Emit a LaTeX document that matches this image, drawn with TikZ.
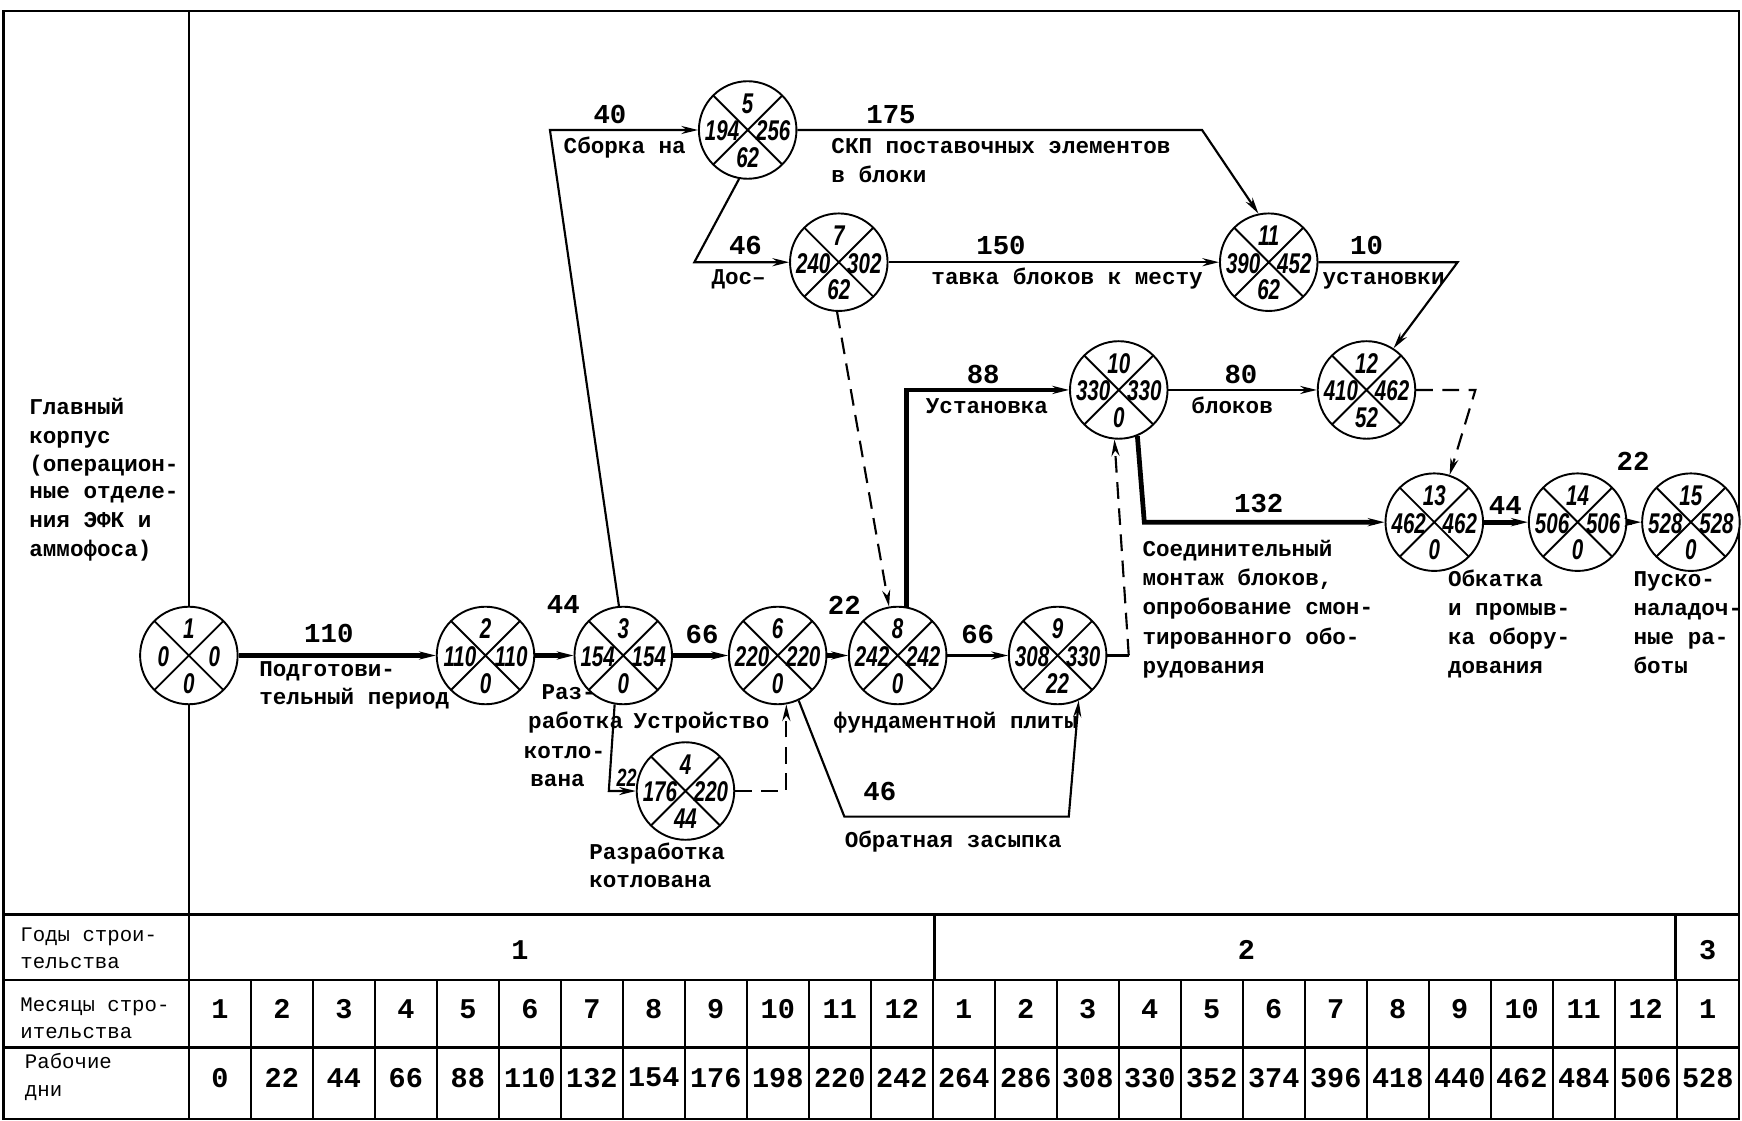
\documentclass[tikz,border=0pt]{standalone}
\usepackage{fontspec}
\setmainfont{Liberation Mono}
\newfontfamily\numfont[UprightFont={* Bold Italic},FakeStretch=0.72]{Liberation Sans}
\usetikzlibrary{arrows.meta}
\tikzset{
  ev/.style={circle, draw, line width=0.8pt, fill=white, minimum size=41pt, inner sep=0pt,
    path picture={\draw[line width=0.8pt]
      (path picture bounding box.north west) -- (path picture bounding box.south east)
      (path picture bounding box.north east) -- (path picture bounding box.south west);}},
  evnum/.style={font=\numfont\fontsize{12}{12}\selectfont, inner sep=0pt},
  frame/.style={line width=1pt},
  thn/.style={line width=0.9pt},
  thk/.style={line width=2pt},
  dsh/.style={line width=0.9pt, dash pattern=on 7pt off 4pt},
  arr/.style={-{Stealth[length=7pt,width=3.4pt]}},
  lbl/.style={font=\bfseries\fontsize{9.5}{12}\selectfont, inner sep=0pt, anchor=base west},
  tlbl/.style={font=\fontsize{8.7}{11}\selectfont, inner sep=0pt, anchor=base west},
  num/.style={font=\bfseries\fontsize{11.5}{12}\selectfont, inner sep=0pt},
  tnum/.style={font=\bfseries\fontsize{12}{12}\selectfont, inner sep=0pt}
}
\newcommand\evnode[7]{%
  \node[ev] (#1) at (#2,#3) {};
  \node[evnum] (#1t) at (#2,#3-24) {#4};
  \node[evnum] (#1l) at (#2-23,#3+1) {#5};
  \node[evnum] (#1r) at (#2+23,#3+1) {#6};
  \node[evnum] (#1b) at (#2,#3+25) {#7};
}
\begin{document}
\begin{tikzpicture}[x=0.467pt,y=-0.467pt]
\useasboundingbox (0,0) rectangle (1568,1009);
% frame and table
\draw[frame] (3,10) rectangle (1565,1007);
\draw[frame] (170,10) -- (170,1007);
\draw[frame] (3,823) -- (1565,823);
\draw[frame] (3,882) -- (1565,882);
\draw[frame] (3,943) -- (1565,943);
\draw[frame] (841,823) -- (841,882);
\draw[frame] (1508,823) -- (1508,882);
\foreach \i in {1,...,24} \draw[frame] (170+\i*55.8,882) -- (170+\i*55.8,1007);
\node[tnum] (y1) at (468,855) {1};
\node[tnum] (y2) at (1122,855) {2};
\node[tnum] (y3) at (1537,855) {3};
\foreach \m [count=\i from 0] in {1,2,3,4,5,6,7,8,9,10,11,12,1,2,3,4,5,6,7,8,9,10,11,12,1}
  \node[tnum] (m\i) at (197.9+\i*55.8,908) {\m};
\foreach \i in {0,...,24}{
  \pgfmathtruncatemacro\d{22*\i}
  \node[tnum] (d\i) at (197.9+\i*55.8,970) {\d};
}
\node[tlbl] (ty1) at (18,847) {Годы строи-};
\node[tlbl] (ty2) at (18,872) {тельства};
\node[tlbl] (tm1) at (18,910) {Месяцы стро-};
\node[tlbl] (tm2) at (18,935) {ительства};
\node[tlbl] (td1) at (22,962) {Рабочие};
\node[tlbl] (td2) at (22,987) {дни};
% left text
\node[lbl] (g1) at (26,373) {Главный};
\node[lbl] (g2) at (26,399) {корпус};
\node[lbl] (g3) at (26,424) {(операцион-};
\node[lbl] (g4) at (26,449) {ные отделе-};
\node[lbl] (g5) at (26,475) {ния ЭФК и};
\node[lbl] (g6) at (26,501) {аммофоса)};
% events
\evnode{n1}{170}{590}{1}{0}{0}{0}
\evnode{n2}{437}{590}{2}{110}{110}{0}
\evnode{n3}{561}{590}{3}{154}{154}{0}
\evnode{n4}{617}{712}{4}{176}{220}{44}
\evnode{n5}{673}{117}{5}{194}{256}{62}
\evnode{n6}{700}{590}{6}{220}{220}{0}
\evnode{n7}{755}{236}{7}{240}{302}{62}
\evnode{n8}{808}{590}{8}{242}{242}{0}
\evnode{n9}{952}{590}{9}{308}{330}{22}
\evnode{n10}{1007}{351}{10}{330}{330}{0}
\evnode{n11}{1142}{236}{11}{390}{452}{62}
\evnode{n12}{1230}{351}{12}{410}{462}{52}
\evnode{n13}{1291}{470}{13}{462}{462}{0}
\evnode{n14}{1420}{470}{14}{506}{506}{0}
\evnode{n15}{1522}{470}{15}{528}{528}{0}
% bend points
\coordinate (c3a) at (495,117);
\coordinate (c5a) at (1082,117);
\coordinate (c5b) at (625,236);
\coordinate (c11a) at (1312,236);
\coordinate (c12a) at (1328,351);
\coordinate (c10a) at (1030,470);
\coordinate (c9a) at (1016,590);
\coordinate (c3b) at (548,712);
\coordinate (c6a) at (760,735);
\coordinate (c6b) at (962,735);
% connectors
\draw[thk,arr] (n1) -- (n2);
\draw[thk,arr] (n2) -- (n3);
\draw[thk,arr] (n3) -- (n6);
\draw[thk,arr] (n6) -- (n8);
\draw[thn,arr] (n8) -- (n9);
\draw[thk,arr] (n8.80) |- (n10.west);
\draw[thn,arr] (n10) -- (n12);
\draw[thk,arr] (n10.-68) -- (c10a) -- (n13.west);
\draw[thn] (n9.east) -- (c9a);
\draw[dsh,arr] (c9a) -- (n10.-95);
\draw[dsh,arr] (n7.-92) -- (n8.100);
\draw[thn,arr] (n3.95) -- (c3a) -- (n5.west);
\draw[thn,arr] (n5.east) -- (c5a) -- (n11.102);
\draw[thn,arr] (n5.-100) -- (c5b) -- (n7.west);
\draw[thn,arr] (n7) -- (n11);
\draw[thn,arr] (n11.east) -- (c11a) -- (n12.57);
\draw[dsh,arr] (n12.east) -- (c12a) -- (n13.72);
\draw[thk,arr] (n13) -- (n14);
\draw[thk,arr] (n14) -- (n15);
\draw[thn,arr] (n3.-100) -- (c3b) -- (n4.west);
\draw[dsh,arr] (n4.east) -| (n6.-80);
\draw[thn,arr] (n6.-65) -- (c6a) -- (c6b) -- (n9.-65);
% edge numbers
\node[num] (e12) at (296,570) {110};
\node[num] (e23) at (507,544) {44};
\node[num] (e36) at (632,571) {66};
\node[num] (e68) at (760,545) {22};
\node[num] (e89) at (880,571) {66};
\node[num] (e810) at (885,337) {88};
\node[num] (e1012) at (1117,337) {80};
\node[num] (e1013) at (1133,453) {132};
\node[num] (e1314) at (1355,455) {44};
\node[num] (e1415) at (1470,415) {22};
\node[num] (e35) at (549,103) {40};
\node[num] (e511) at (802,103) {175};
\node[num] (e57) at (671,221) {46};
\node[num] (e711) at (901,221) {150};
\node[num] (e1112) at (1230,221) {10};
\node[num] (e69) at (792,712) {46};
\node[evnum, font=\numfont\fontsize{10.5}{10.5}\selectfont] (e34) at (564,700) {22};
% edge texts
\node[lbl] (t1a) at (233,609) {Подготови-};
\node[lbl] (t1b) at (233,634) {тельный период};
\node[lbl] (t2) at (507,138) {Сборка на};
\node[lbl] (t3a) at (748,138) {СКП поставочных элементов};
\node[lbl] (t3b) at (748,164) {в блоки};
\node[lbl] (t4a) at (640,256) {Дос–};
\node[lbl] (t4b) at (838,256) {тавка блоков к месту};
\node[lbl] (t5) at (1190,256) {установки};
\node[lbl] (t6a) at (833,372) {Установка};
\node[lbl] (t6b) at (1072,372) {блоков};
\node[lbl] (t7a) at (1028,501) {Соединительный};
\node[lbl] (t7b) at (1028,527) {монтаж блоков,};
\node[lbl] (t7c) at (1028,553) {опробование смон-};
\node[lbl] (t7d) at (1028,580) {тированного обо-};
\node[lbl] (t7e) at (1028,606) {рудования};
\node[lbl] (t8a) at (1303,528) {Обкатка};
\node[lbl] (t8b) at (1303,554) {и промыв-};
\node[lbl] (t8c) at (1303,580) {ка обору-};
\node[lbl] (t8d) at (1303,606) {дования};
\node[lbl] (t9a) at (1470,528) {Пуско-};
\node[lbl] (t9b) at (1470,554) {наладоч-};
\node[lbl] (t9c) at (1470,580) {ные ра-};
\node[lbl] (t9d) at (1470,606) {боты};
\node[lbl] (t10a) at (487,630) {Раз-};
\node[lbl] (t10b) at (475,656) {работка};
\node[lbl] (t10c) at (471,683) {котло-};
\node[lbl] (t10d) at (477,708) {вана};
\node[lbl] (t11a) at (570,656) {Устройство};
\node[lbl] (t11b) at (750,656) {фундаментной плиты};
\node[lbl] (t12) at (760,763) {Обратная засыпка};
\node[lbl] (t13a) at (530,774) {Разработка};
\node[lbl] (t13b) at (530,799) {котлована};
\end{tikzpicture}
\end{document}
